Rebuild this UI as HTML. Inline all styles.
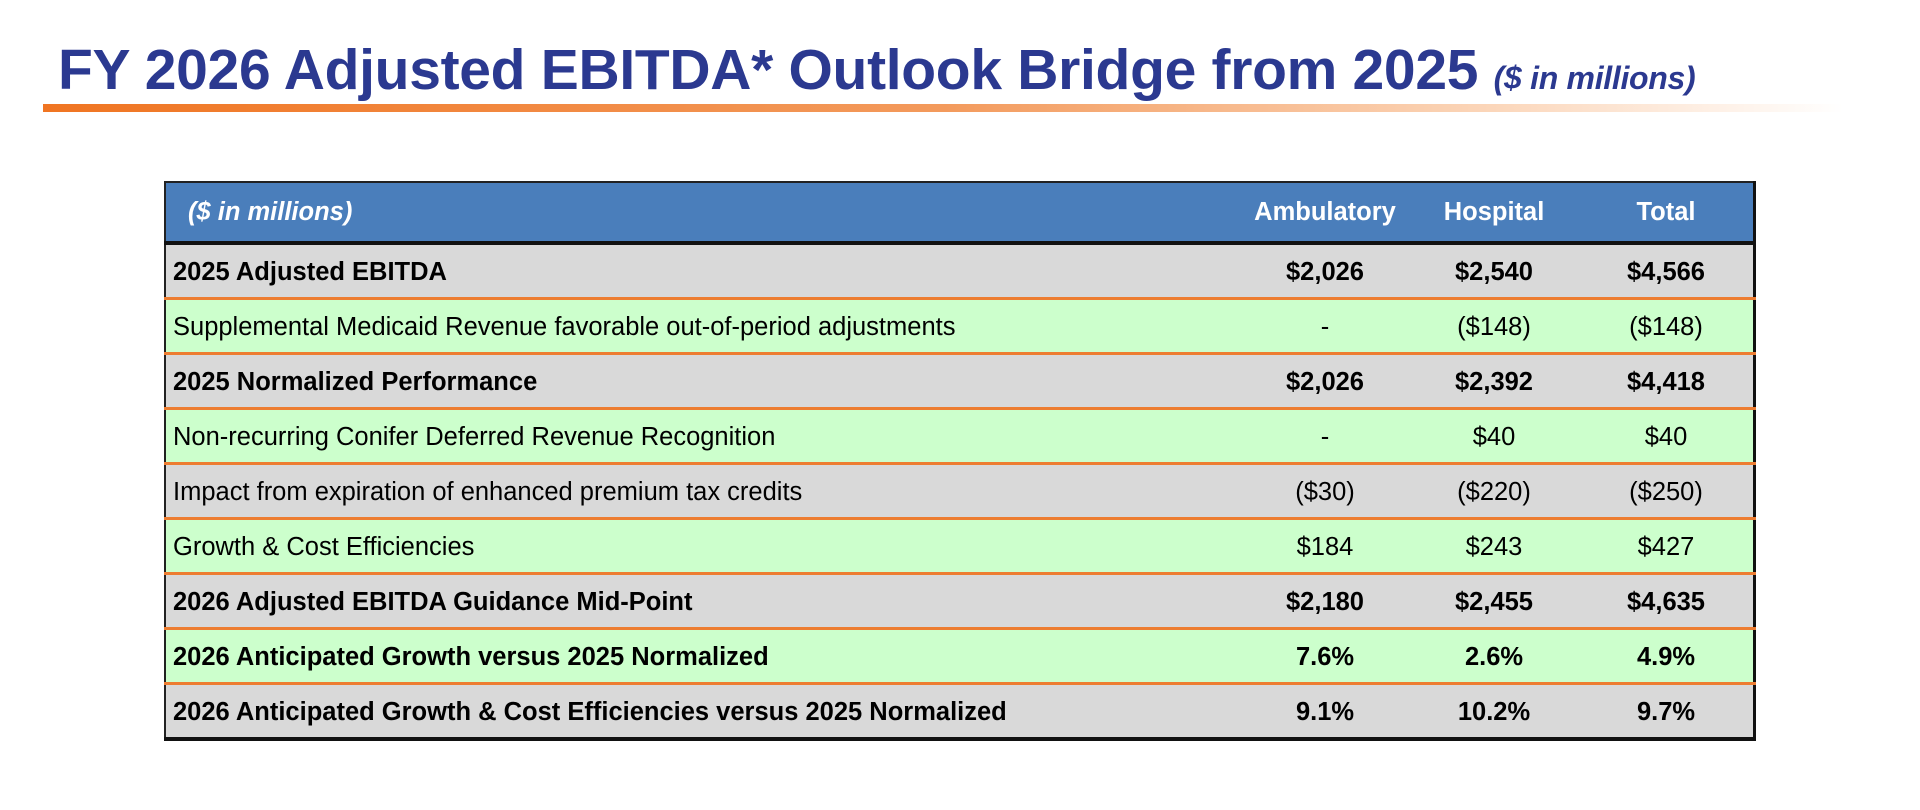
<!DOCTYPE html>
<html><head><meta charset="utf-8"><style>
body{margin:0;width:1920px;height:810px;background:#fff;position:relative;overflow:hidden;font-family:"Liberation Sans",Arial,sans-serif;}
.title{position:absolute;left:58px;top:37px;font-size:57px;font-weight:bold;color:#2b3990;white-space:nowrap;letter-spacing:-0.3px}
.title i{font-size:32px;}
.bar{position:absolute;left:43px;top:104px;width:1800px;height:8px;background:linear-gradient(to right,#f07522 0%,#f39a5c 50%,#fbd5b8 80%,rgba(255,255,255,0) 100%);}
table{position:absolute;left:164px;top:181px;width:1592px;border-collapse:collapse;border:2px solid #222;border-right:3px solid #111;border-bottom:4px solid #111;font-size:25.5px;table-layout:fixed}
td{height:50px;padding:2px 0 0 0;border-bottom:3px solid #ed7d31;color:#000;white-space:nowrap}
tr:last-child td{border-bottom:none;height:50px}
th{height:56px;padding-top:1px;background:#4a7ebb;color:#fff;font-weight:bold;border-bottom:4px solid #111;font-size:25.5px}
th.l{text-align:left;font-style:italic;padding-left:22px}
td.l{padding-left:7px}
.g td{background:#d9d9d9}.n td{background:#ccffcc}
.b td{font-weight:bold}
td.c{text-align:center}
.c1{width:166px}.c2{width:168px}.c3{width:172px}
</style></head><body>
<div class="title">FY 2026 Adjusted EBITDA* Outlook Bridge from 2025 <i>($ in millions)</i></div>
<div class="bar"></div>
<table>
<tr><th class="l">($ in millions)</th><th class="c1">Ambulatory</th><th class="c2">Hospital</th><th class="c3">Total</th></tr>
<tr class="g b"><td class="l">2025 Adjusted EBITDA</td><td class="c">$2,026</td><td class="c">$2,540</td><td class="c">$4,566</td></tr>
<tr class="n"><td class="l">Supplemental Medicaid Revenue favorable out-of-period adjustments</td><td class="c">-</td><td class="c">($148)</td><td class="c">($148)</td></tr>
<tr class="g b"><td class="l">2025 Normalized Performance</td><td class="c">$2,026</td><td class="c">$2,392</td><td class="c">$4,418</td></tr>
<tr class="n"><td class="l">Non-recurring Conifer Deferred Revenue Recognition</td><td class="c">-</td><td class="c">$40</td><td class="c">$40</td></tr>
<tr class="g"><td class="l">Impact from expiration of enhanced premium tax credits</td><td class="c">($30)</td><td class="c">($220)</td><td class="c">($250)</td></tr>
<tr class="n"><td class="l">Growth &amp; Cost Efficiencies</td><td class="c">$184</td><td class="c">$243</td><td class="c">$427</td></tr>
<tr class="g b"><td class="l">2026 Adjusted EBITDA Guidance Mid-Point</td><td class="c">$2,180</td><td class="c">$2,455</td><td class="c">$4,635</td></tr>
<tr class="n b"><td class="l">2026 Anticipated Growth versus 2025 Normalized</td><td class="c">7.6%</td><td class="c">2.6%</td><td class="c">4.9%</td></tr>
<tr class="g b"><td class="l">2026 Anticipated Growth &amp; Cost Efficiencies versus 2025 Normalized</td><td class="c">9.1%</td><td class="c">10.2%</td><td class="c">9.7%</td></tr>
</table>
</body></html>
